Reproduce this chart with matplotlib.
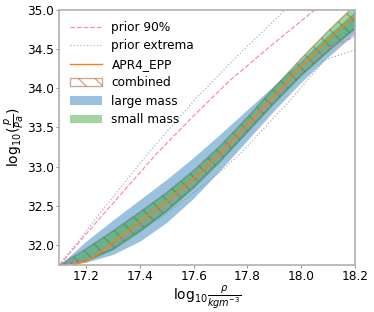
import numpy as np
import matplotlib
matplotlib.use('Agg')
import matplotlib.pyplot as plt

# density grid for the posterior bands (log10 rho / kg m^-3)
x_band = [17.1, 17.2, 17.3, 17.4, 17.5, 17.6, 17.7, 17.8, 17.9, 18.0, 18.1, 18.2]

# large mass band (log10 p / Pa)
large_lo = [31.743, 31.78, 31.88, 32.05, 32.29, 32.60, 32.96, 33.34, 33.72, 34.08, 34.40, 34.70]
large_hi = [31.743, 32.05, 32.32, 32.58, 32.84, 33.12, 33.42, 33.73, 34.04, 34.36, 34.68, 34.98]

# small mass band
small_lo = [31.743, 31.79, 31.94, 32.17, 32.43, 32.73, 33.07, 33.44, 33.81, 34.16, 34.47, 34.76]
small_hi = [31.743, 31.96, 32.19, 32.43, 32.68, 32.96, 33.28, 33.64, 34.02, 34.39, 34.74, 35.07]

# combined band
comb_lo = [31.743, 31.80, 31.95, 32.18, 32.44, 32.74, 33.08, 33.45, 33.82, 34.17, 34.48, 34.77]
comb_hi = [31.743, 31.95, 32.18, 32.42, 32.67, 32.95, 33.27, 33.63, 34.01, 34.38, 34.73, 35.06]

# APR4_EPP equation of state
x_apr = [17.1, 17.15, 17.2, 17.25, 17.3, 17.4, 17.5, 17.6, 17.7, 17.8, 17.9, 18.0, 18.1, 18.2]
y_apr = [31.70, 31.745, 31.79, 31.90, 32.04, 32.30, 32.56, 32.85, 33.18, 33.54, 33.91, 34.28, 34.61, 34.93]

# prior 90% bounds
x_p90_hi = [17.1, 17.25, 17.464, 17.6, 17.736, 17.9, 18.05]
y_p90_hi = [31.743, 32.34, 33.174, 33.65, 34.106, 34.58, 35.0]
x_p90_lo = x_band
y_p90_lo = [31.743, 31.80, 31.99, 32.24, 32.50, 32.80, 33.14, 33.50, 33.87, 34.23, 34.51, 34.66]

# prior extrema
x_ext_hi = [17.1, 17.25, 17.43, 17.6, 17.77, 17.94]
y_ext_hi = [31.743, 32.40, 33.17, 33.84, 34.44, 35.0]
x_ext_lo = [17.1, 17.214, 17.333, 17.494, 17.706, 17.775, 17.96, 18.087, 18.2]
y_ext_lo = [31.743, 31.87, 32.063, 32.382, 32.957, 33.17, 33.851, 34.361, 34.49]

fs = 8.7
fig = plt.figure(figsize=(3.74, 3.12), dpi=100)
ax = fig.add_axes([0.159, 0.151, 0.79, 0.817])

ax.plot(x_p90_hi, y_p90_hi, '--', color='hotpink', lw=0.9, alpha=0.8, label='prior 90%')
ax.plot(x_p90_lo, y_p90_lo, '--', color='hotpink', lw=0.9, alpha=0.8)
ax.plot(x_ext_hi, y_ext_hi, ':', color='gray', lw=0.9, alpha=0.6, label='prior extrema')
ax.plot(x_ext_lo, y_ext_lo, ':', color='gray', lw=0.9, alpha=0.6)
ax.plot(x_apr, y_apr, color='C1', lw=1.0, label='APR4_EPP')

ax.fill_between(x_band, comb_lo, comb_hi, facecolor='none', edgecolor='sienna',
                hatch='\\\\', alpha=0.5, lw=1.0, label='combined')
ax.fill_between(x_band, large_lo, large_hi, color='C0', alpha=0.45, lw=0, label='large mass')
ax.fill_between(x_band, small_lo, small_hi, color='C2', alpha=0.45, lw=0, label='small mass')

ax.set_xlim(17.1, 18.2)
ax.set_ylim(31.745, 35.0)
ax.set_xticks([17.2, 17.4, 17.6, 17.8, 18.0, 18.2])
ax.set_yticks([32.0, 32.5, 33.0, 33.5, 34.0, 34.5, 35.0])
ax.tick_params(labelsize=fs, length=2, width=0.6, color='gray', pad=2)
for s in ax.spines.values():
    s.set_color('#b0b0b0')
    s.set_linewidth(1.2)

ax.set_xlabel(r'log$_{10}\frac{\rho}{kgm^{-3}}$', fontsize=10, labelpad=0)
ax.set_ylabel(r'log$_{10}(\frac{p}{Pa})$', fontsize=10, labelpad=1)

ax.legend(loc='upper left', frameon=False, fontsize=fs, handlelength=2.6,
          labelspacing=0.45, borderaxespad=0.5)

fig.savefig('out.png', dpi=100)
